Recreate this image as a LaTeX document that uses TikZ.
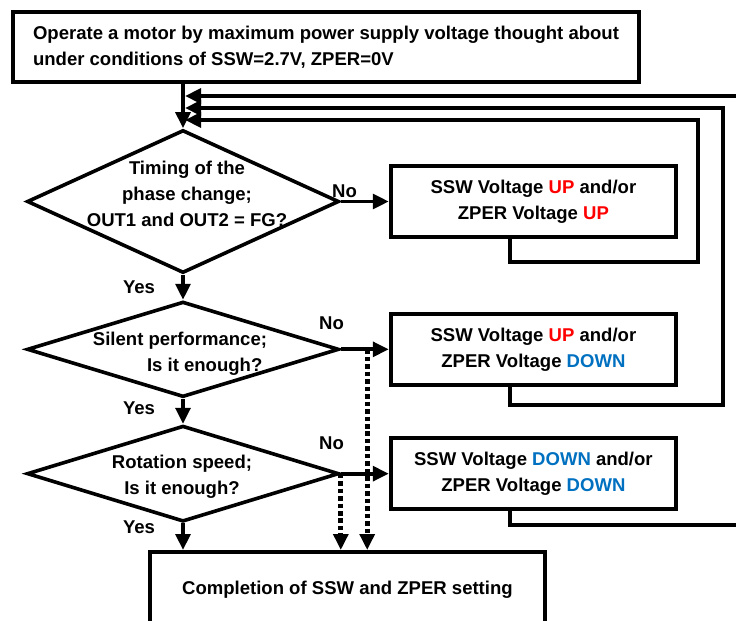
\documentclass[tikz,border=0pt]{standalone}
\usepackage{fontspec}
\setmainfont{Liberation Sans}
\usepackage{xcolor}
\usetikzlibrary{shapes.geometric,arrows.meta,positioning,calc}

\definecolor{upred}{RGB}{255,0,0}
\definecolor{downblue}{RGB}{0,112,192}
\newcommand{\UpTxt}{\textcolor{upred}{UP}}
\newcommand{\DownTxt}{\textcolor{downblue}{DOWN}}

\begin{document}
\begin{tikzpicture}[
    x=0.75pt, y=-0.75pt,
    every node/.style={font=\bfseries\fontsize{13.9}{19.5}\selectfont},
    flowbox/.style={rectangle, draw, line width=2.9pt, align=center, inner sep=0pt},
    sidebox/.style={flowbox, minimum width=214pt, minimum height=53.6pt},
    decision/.style={diamond, draw, line width=2.7pt, inner sep=0pt, minimum width=234pt},
    flowarrow/.style={-{Triangle[length=12pt,width=11pt]}, line width=2.9pt},
    dotarrow/.style={flowarrow, line width=3.6pt, dash pattern=on 3.4pt off 2.2pt}
]
\useasboundingbox (0,0) rectangle (736,621);
\clip (0,0) rectangle (736,621);

% start and decisions
\node[flowbox, align=left, minimum width=469.5pt, minimum height=52.5pt] (start) at (326,47)
    {Operate a motor by maximum power supply voltage thought about\\under conditions of SSW=2.7V, ZPER=0V};
\node[decision, minimum height=107.25pt] (phase) at (183,201.5) {};
\node[align=center] (phasetxt) at ([xshift=3pt,yshift=5.6pt]phase.center)
    {Timing of the\\phase change;\\OUT1 and OUT2 = FG?};
\node[decision, minimum height=71.6pt, below=18.75pt of phase] (silent) {};
\node[align=center] (silenttxt) at ([xshift=-2.25pt,yshift=-3pt]silent.center)
    {Silent performance;\\\hspace*{37pt}Is it enough?};
\node[decision, minimum height=72pt, below=18.75pt of silent] (speed) {};
\node[align=center] (speedtxt) at ([xshift=-0.75pt,yshift=-2.25pt]speed.center)
    {Rotation speed;\\Is it enough?};

% adjustments
\node[sidebox, right=36pt of phase] (adj1) {SSW Voltage \UpTxt{} and/or\\ZPER Voltage \UpTxt};
\node[sidebox, right=36pt of silent] (adj2) {SSW Voltage \UpTxt{} and/or\\ZPER Voltage \DownTxt};
\node[sidebox, right=36pt of speed] (adj3) {SSW Voltage \DownTxt{} and/or\\ZPER Voltage \DownTxt};

% end
\node[flowbox, anchor=north west, minimum width=296.25pt, minimum height=57pt] (done) at (148,550)
    {Completion of SSW and ZPER setting};

% labels
\node (no1) at (344.5,191) {No};
\node (no2) at (331.5,323) {No};
\node (no3) at (331.5,443) {No};
\node (yes1) at (139,287) {Yes};
\node (yes2) at (139,408) {Yes};
\node (yes3) at (139,527) {Yes};

% main flow
\draw[flowarrow] (start.south -| phase.north) -- (phase.north);
\draw[flowarrow] (phase.east) -- (phase.east -| adj1.west);
\draw[flowarrow] (phase.south) -- (silent.north);
\draw[flowarrow] (silent.east) -- (silent.east -| adj2.west);
\draw[flowarrow] (silent.south) -- (speed.north);
\draw[flowarrow] (speed.east) -- (speed.east -| adj3.west);
\draw[flowarrow] (speed.south) -- (speed.south |- done.north);

% dotted shortcuts
\coordinate (tap2) at ($(silent.east)!0.55!(silent.east -| adj2.west)$);
\draw[dotarrow] (tap2) -- (tap2 |- done.north);
\draw[dotarrow] (speed.east) -- (speed.east |- done.north);

% feedback loops
\foreach \b/\yl/\xr/\yin in {adj1/262/698/120, adj2/405/723/108, adj3/525/750/96} {
  \coordinate (in-\b) at (185,\yin);
  \draw[flowarrow] ($(\b.south west)!0.42!(\b.south east)$) |- (\xr,\yl) |- (in-\b);
}
\end{tikzpicture}
\end{document}
